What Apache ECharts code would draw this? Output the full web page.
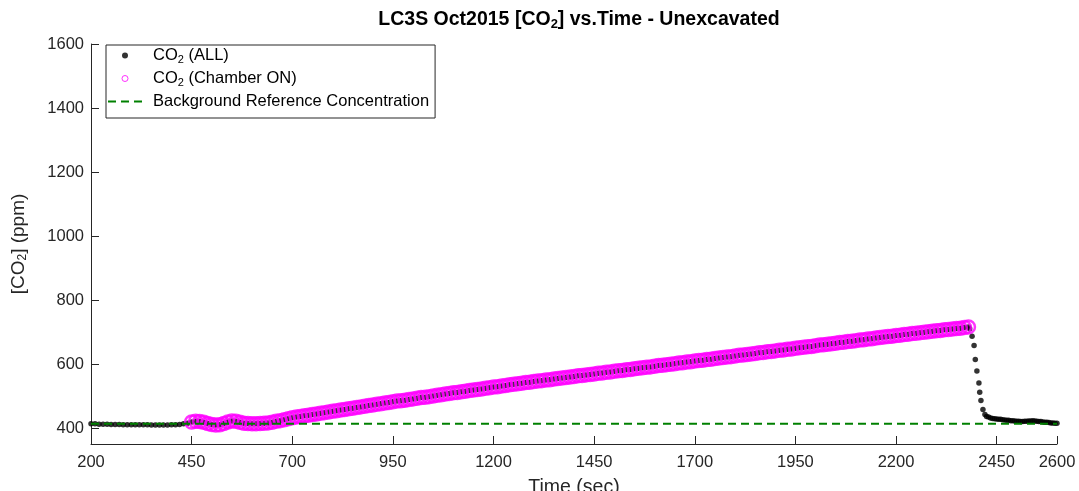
<!DOCTYPE html>
<html>
<head>
<meta charset="utf-8">
<script src="https://cdn.jsdelivr.net/npm/echarts@6/dist/echarts.min.js"></script>
<style>
html,body{margin:0;padding:0;background:#fff;}
#chart{width:1079px;height:491px;}
</style>
</head>
<body>
<div id="chart"></div>
<script>
// ---- data ----
const timeSec = [
  200,210,220,230,240,250,260,270,280,290,
  300,310,320,330,340,350,360,370,380,390,
  400,410,420,430,440,450,460,470,480,490,
  500,510,520,530,540,550,560,570,580,590,
  600,610,620,630,640,650,660,670,680,690,
  700,710,720,730,740,750,760,770,780,790,
  800,810,820,830,840,850,860,870,880,890,
  900,910,920,930,940,950,960,970,980,990,
  1000,1010,1020,1030,1040,1050,1060,1070,1080,1090,
  1100,1110,1120,1130,1140,1150,1160,1170,1180,1190,
  1200,1210,1220,1230,1240,1250,1260,1270,1280,1290,
  1300,1310,1320,1330,1340,1350,1360,1370,1380,1390,
  1400,1410,1420,1430,1440,1450,1460,1470,1480,1490,
  1500,1510,1520,1530,1540,1550,1560,1570,1580,1590,
  1600,1610,1620,1630,1640,1650,1660,1670,1680,1690,
  1700,1710,1720,1730,1740,1750,1760,1770,1780,1790,
  1800,1810,1820,1830,1840,1850,1860,1870,1880,1890,
  1900,1910,1920,1930,1940,1950,1960,1970,1980,1990,
  2000,2010,2020,2030,2040,2050,2060,2070,2080,2090,
  2100,2110,2120,2130,2140,2150,2160,2170,2180,2190,
  2200,2210,2220,2230,2240,2250,2260,2270,2280,2290,
  2300,2310,2320,2330,2340,2350,2360,2370,2380,
  2383,2389,2394,2397,2401,2406,2408,2411,2416,2421,
  2425,2430,2435,2440,2445,2450,2455,2460,2465,2470,
  2475,2480,2485,2490,2495,2500,2505,2510,2515,2520,
  2525,2530,2535,2540,2545,2550,2555,2560,2565,2570,
  2575,2580,2585,2590,2595,2600
];
const co2All = [
  413,413,412,412,412,411,411,411,410,410,
  410,410,410,410,410,409,409,409,409,409,
  410,410,411,413,415,419,421,420,418,414,
  411,409,410,414,419,422,421,418,415,414,
  413,413,414,415,416,418,421,423,426,429,
  432,434,436,438,440,442,444,446,448,450,
  452,454,456,458,460,462,464,466,468,470,
  472,474,476,478,480,482,484,485,487,489,
  491,493,495,496,498,500,502,504,506,508,
  510,511,513,515,517,519,520,522,524,526,
  528,529,531,533,535,537,538,540,542,543,
  545,547,548,550,551,553,555,556,558,559,
  561,563,564,566,567,569,571,572,574,575,
  577,579,580,582,583,585,587,588,590,591,
  593,595,596,598,599,601,603,604,606,607,
  609,611,612,614,615,617,619,620,622,623,
  625,627,628,630,631,633,635,636,638,639,
  641,643,644,646,647,649,651,652,654,655,
  657,659,660,662,663,665,667,668,670,671,
  673,675,676,678,679,681,683,684,686,687,
  689,690,692,693,695,696,698,699,701,702,
  704,705,707,708,709,711,712,714,716,
  710,687,658,614,578,541,512,486,458,442,
  436,434,431,430,429,428,427,427,426,425,
  424,424,423,423,422,421,421,420,420,421,
  421,422,422,423,422,421,420,420,419,418,
  418,417,416,416,415,415
];
const chamberOnWindow = [450, 2380];          // seconds, chamber ON
const backgroundPpm = 413;                    // background reference concentration
const xTicks = [200,450,700,950,1200,1450,1700,1950,2200,2450,2600];
const yTicks = [400,600,800,1000,1200,1400,1600];
const seriesNames = ['CO2 (ALL)', 'CO2 (Chamber ON)', 'Background Reference Concentration'];

// ---- build series data ----
const allData = timeSec.map((t, i) => [t, co2All[i]]);
const onData = allData.filter(d => d[0] >= chamberOnWindow[0] && d[0] <= chamberOnWindow[1]);
const bgData = [[xTicks[0], backgroundPpm], [xTicks[xTicks.length - 1], backgroundPpm]];

const FONT = '"Liberation Sans", Arial, Helvetica, sans-serif';
const AX = '#262626';

const chart = echarts.init(document.getElementById('chart'), null, {renderer: 'canvas'});
chart.setOption({
  animation: false,
  backgroundColor: '#ffffff',
  textStyle: {fontFamily: FONT},
  title: {
    text: '{t|LC3S Oct2015 [CO}{s|2}{t|] vs.Time - Unexcavated}',
    left: 574,
    textAlign: 'center',
    top: 4,
    textStyle: {
      fontFamily: FONT,
      rich: {
        t: {fontSize: 19.5, fontWeight: 'bold', color: '#000', fontFamily: FONT},
        s: {fontSize: 13, fontWeight: 'bold', color: '#000', fontFamily: FONT, padding: [9, 0, 0, 0]}
      }
    }
  },
  grid: {left: 91, right: 22, top: 44, bottom: 47, containLabel: false, outerBoundsMode: 'none'},
  legend: {
    orient: 'vertical',
    left: 106,
    top: 45,
    padding: [2, 6, 8, 1],
    itemGap: 5,
    itemWidth: 34,
    itemHeight: 6,
    borderColor: AX,
    borderWidth: 1,
    backgroundColor: '#fff',
    data: [
      {name: seriesNames[0]},
      {name: seriesNames[1], itemStyle: {borderWidth: 1}},
      {name: seriesNames[2], itemStyle: {color: 'rgba(0,0,0,0)', borderWidth: 0}}
    ],
    formatter: name => name.replace('CO2', 'CO{s|2}'),
    textStyle: {
      fontFamily: FONT,
      fontSize: 16.5,
      color: '#000',
      padding: [0, 0, 0, 6],
      rich: {
        s: {fontSize: 11, fontFamily: FONT, color: '#000', padding: [8, 0, 0, 0]}
      }
    }
  },
  xAxis: {
    type: 'value',
    min: 200,
    max: 2600,
    name: 'Time (sec)',
    nameLocation: 'middle',
    nameGap: 34,
    nameTextStyle: {fontSize: 19.5, color: AX, fontFamily: FONT},
    axisLine: {show: true, onZero: false, lineStyle: {color: AX, width: 1}},
    axisTick: {show: true, inside: true, length: 8, lineStyle: {color: AX}, customValues: xTicks},
    axisLabel: {fontSize: 16.5, color: AX, margin: 10, fontFamily: FONT, customValues: xTicks,
      formatter: v => String(v)},
    splitLine: {show: false}
  },
  yAxis: {
    type: 'value',
    min: 350,
    max: 1600,
    name: '[CO{s|2}] (ppm)',
    nameLocation: 'middle',
    nameGap: 62,
    nameTextStyle: {
      fontSize: 19, color: AX, fontFamily: FONT,
      rich: {s: {fontSize: 12, color: AX, fontFamily: FONT, padding: [9, 0, 0, 0]}}
    },
    axisLine: {show: true, onZero: false, lineStyle: {color: AX, width: 1}},
    axisTick: {show: true, inside: true, length: 8, lineStyle: {color: AX}, customValues: yTicks},
    axisLabel: {fontSize: 16.5, color: AX, margin: 7, fontFamily: FONT, customValues: yTicks,
      formatter: v => String(v)},
    splitLine: {show: false}
  },
  series: [
    {
      name: seriesNames[0],
      type: 'scatter',
      data: allData,
      symbol: 'circle',
      symbolSize: 5.5,
      itemStyle: {color: '#000000'},
      z: 2
    },
    {
      name: seriesNames[1],
      type: 'scatter',
      data: onData,
      symbol: 'circle',
      symbolSize: 13,
      itemStyle: {color: 'rgba(255,0,255,0)', borderColor: '#ff00ff', borderWidth: 2.5},
      z: 3
    },
    {
      name: seriesNames[2],
      type: 'line',
      data: bgData,
      symbol: 'none',
      lineStyle: {color: '#008000', width: 2, type: [8, 5]},
      itemStyle: {color: '#008000'},
      z: 4
    }
  ]
});
</script>
</body>
</html>
